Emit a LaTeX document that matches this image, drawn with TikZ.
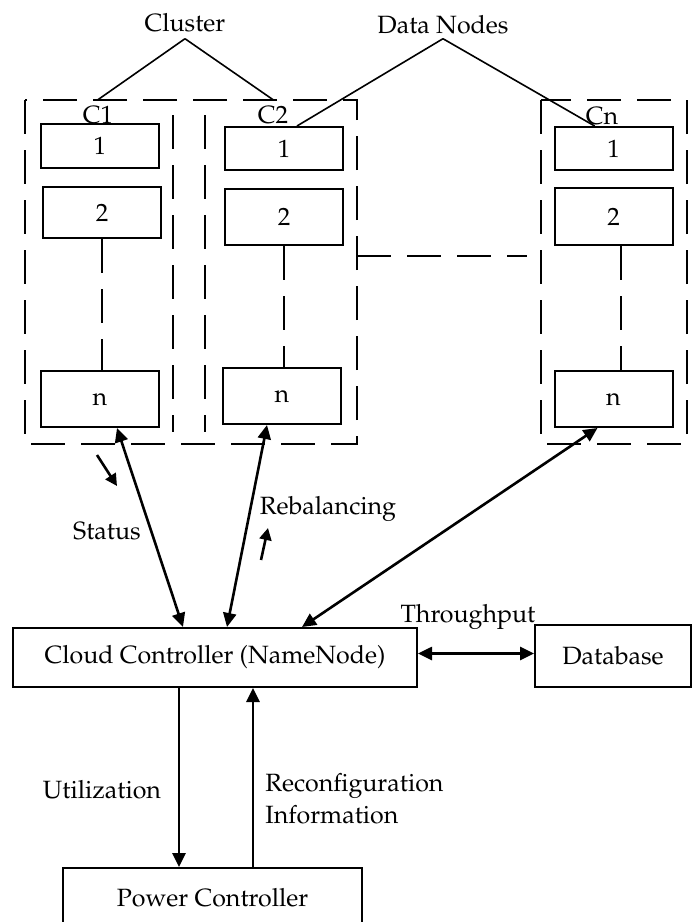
\documentclass[tikz,border=0pt]{standalone}
\usepackage[T1]{fontenc}
\usepackage{mathpazo}
\usetikzlibrary{arrows.meta, positioning}

\tikzset{
  dnode/.style={draw, line width=1pt, minimum width=59pt, inner sep=0pt},
  ctrl/.style={draw, line width=1pt, inner sep=0pt},
  frame/.style={line width=1pt, dash pattern=on 17pt off 8pt},
  lbl/.style={inner sep=3pt},
  pointer/.style={line width=0.8pt},
  link/.style={line width=1.3pt, {Triangle[length=7pt,width=6.5pt]}-{Triangle[length=7pt,width=6.5pt]}},
  flow/.style={line width=1.3pt, -{Triangle[length=7pt,width=6.5pt]}},
  hint/.style={line width=1.3pt, -{Triangle[length=6pt,width=6pt]}}
}

\begin{document}
\begin{tikzpicture}[x=0.5pt,y=-0.5pt,font=\fontsize{12.5}{16}\selectfont]
  \useasboundingbox (0,0) rectangle (699,922);

  % Cluster frames
  \draw[frame] (25,100) rectangle (357,444);
  \draw[frame] (173,115) -- (173,432);
  \draw[frame] (205,115) -- (205,432);
  \draw[frame] (357,256) -- (527,256);
  \draw[frame] (541,100) rectangle (687,444);

  % Cluster names
  \node[lbl] (c1) at (98,115) {C1};
  \node[lbl] (c2) at (273,115) {C2};
  \node[lbl] (cn) at (602,116) {Cn};

  % Data nodes of C1
  \node[dnode, minimum height=22pt] (c1a) at (100,146) {1};
  \node[dnode, minimum height=25.5pt] (c1b) at (102,212.5) {2};
  \node[dnode, minimum height=28pt] (c1n) at (100,399) {n};
  \draw[frame] (c1b.south) -- (c1b.south |- c1n.north);

  % Data nodes of C2
  \node[dnode, minimum height=21.5pt] (c2a) at (284,148.5) {1};
  \node[dnode, minimum height=28pt] (c2b) at (284,217) {2};
  \node[dnode, minimum height=28pt] (c2n) at (282,396) {n};
  \draw[frame] (c2b.south) -- (c2b.south |- c2n.north);

  % Data nodes of Cn
  \node[dnode, minimum height=21.5pt] (cna) at (613.5,148.5) {1};
  \node[dnode, minimum height=28.5pt] (cnb) at (613.5,216.5) {2};
  \node[dnode, minimum height=28pt] (cnn) at (613.5,399) {n};
  \draw[frame] ([xshift=3.5pt]cnb.south) -- ([xshift=3.5pt]cnb.south |- cnn.north);

  % Captions on top
  \node[lbl] (cluster) at (185,23) {Cluster};
  \node[inner sep=2pt] (datan) at (443,25) {Data Nodes};
  \draw[pointer] (cluster.south) -- (c1.north);
  \draw[pointer] (cluster.south) -- (c2.north);
  \draw[pointer] (datan.south) -- (c2a.60);
  \draw[pointer] (datan.south) -- (cna.130);

  % Controllers
  \node[ctrl, minimum width=202pt, minimum height=29.5pt] (cc) at (215,657.5) {Cloud Controller (NameNode)};
  \node[ctrl, minimum width=78pt, minimum height=31pt] (db) at (613,656) {Database};
  \node[ctrl, minimum width=149.5pt, minimum height=30pt] (pc) at (212.5,898) {Power Controller};

  % Links between clusters and NameNode
  \draw[link] ([xshift=8.5pt]c1n.south) -- ([xshift=-16pt]cc.north);
  \draw[link] ([xshift=-7.5pt]c2n.south) -- ([xshift=6pt]cc.north);
  \draw[link] ([xshift=-8pt]cnn.south) -- ([xshift=43.5pt]cc.north);
  \draw[link] ([yshift=2pt]cc.east) -- ([yshift=2pt]cc.east -| db.west);

  % Power controller loop
  \draw[flow] ([xshift=-18pt]cc.south) -- ([xshift=-16.75pt]pc.north);
  \draw[flow] ([xshift=20.25pt]pc.north) -- ([xshift=19pt]cc.south);

  % Direction hints
  \coordinate (st0) at (97,455);
  \coordinate (st1) at (117,486);
  \coordinate (rb0) at (261,560);
  \coordinate (rb1) at (268,528);
  \draw[hint] (st0) -- (st1);
  \draw[hint] (rb0) -- (rb1);

  % Labels
  \node (status) at (107,531) {Status};
  \node (rebal) at (328,509) {Rebalancing};
  \node (thru) at (468,617) {Throughput};
  \node (util) at (102,790) {Utilization};
  \node[align=left, anchor=west, inner sep=0pt] (reconf) at (265,799) {Reconfiguration\\Information};
\end{tikzpicture}
\end{document}
